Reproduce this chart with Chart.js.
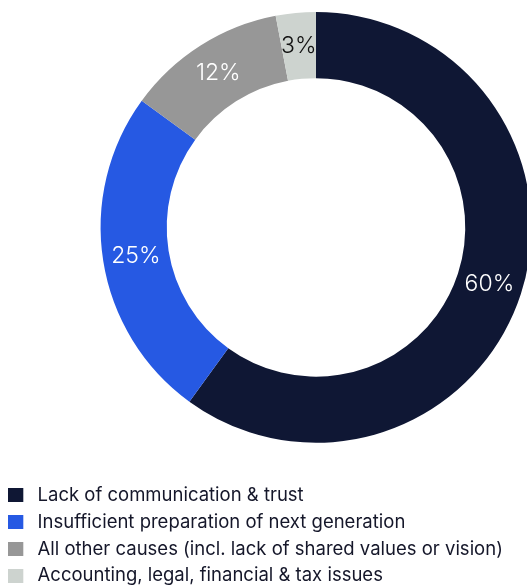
<!DOCTYPE html>
<html>
<head>
<meta charset="utf-8">
<script src="https://cdn.jsdelivr.net/npm/chart.js@4/dist/chart.umd.min.js"></script>
<style>
  html, body { margin: 0; padding: 0; background: #ffffff; overflow: hidden; width: 527px; height: 585px; }
  #wrap { position: absolute; left: 0; top: 0; width: 632px; height: 600px; }
</style>
</head>
<body>
<div id="wrap"><canvas id="c" width="632" height="600"></canvas></div>
<script>
// ---- data ----
const categories = [
  "Lack of communication & trust",
  "Insufficient preparation of next generation",
  "All other causes (incl. lack of shared values or vision)",
  "Accounting, legal, financial & tax issues"
];
const shares = [60, 25, 12, 3];
const sliceLabels = ["60%", "25%", "12%", "3%"];

// ---- styles ----
const sliceColors = ["#0f1734", "#2659e3", "#979797", "#cdd3cf"];
const labelColors = ["#ffffff", "#ffffff", "#ffffff", "#111111"];
const FONT = "Inter, 'Noto Sans', 'DejaVu Sans', sans-serif";

function legendMarker(color) {
  const cv = document.createElement('canvas');
  cv.width = 20; cv.height = 14;
  const g = cv.getContext('2d');
  g.fillStyle = color;
  g.fillRect(0, 0, 15, 14);
  return cv;
}
const markers = sliceColors.map(legendMarker);

const sliceLabelPlugin = {
  id: 'sliceLabels',
  afterDatasetsDraw(chart) {
    const ctx = chart.ctx;
    const meta = chart.getDatasetMeta(0);
    ctx.save();
    ctx.font = "300 23px " + FONT;
    ctx.textAlign = 'center';
    ctx.textBaseline = 'middle';
    meta.data.forEach((arc, i) => {
      const p = arc.getCenterPoint();
      ctx.fillStyle = labelColors[i];
      ctx.fillText(sliceLabels[i], p.x, p.y);
    });
    ctx.restore();
  }
};

new Chart(document.getElementById('c'), {
  type: 'doughnut',
  data: {
    labels: categories,
    datasets: [{
      data: shares,
      backgroundColor: sliceColors,
      borderWidth: 0,
      hoverOffset: 0
    }]
  },
  options: {
    responsive: false,
    animation: false,
    cutout: '69.3%',
    layout: { padding: { top: 12, left: 0, right: 0, bottom: 5 } },
    plugins: {
      tooltip: { enabled: false },
      legend: {
        position: 'bottom',
        align: 'start',
        title: {
          display: true,
          text: '',
          font: { size: 1, lineHeight: 1 },
          padding: { top: 34, bottom: 0 }
        },
        labels: {
          usePointStyle: true,
          pointStyleWidth: 20,
          padding: 8.3,
          color: '#15172a',
          font: { family: FONT, size: 18.5 },
          generateLabels(chart) {
            return categories.map((t, i) => ({
              text: t,
              fillStyle: sliceColors[i],
              strokeStyle: sliceColors[i],
              lineWidth: 0,
              pointStyle: markers[i],
              fontColor: '#15172a',
              hidden: false,
              index: i
            }));
          }
        }
      }
    }
  },
  plugins: [sliceLabelPlugin]
});
</script>
</body>
</html>
